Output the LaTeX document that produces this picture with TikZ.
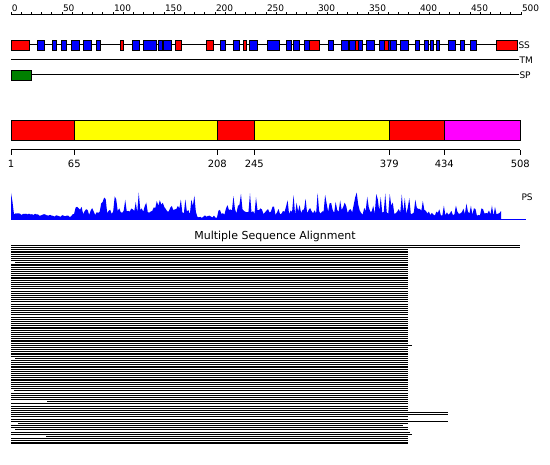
\documentclass[tikz,border=0pt]{standalone}
\usepackage{fontspec}
\setmainfont{DejaVu Sans}
\usetikzlibrary{calc}
\definecolor{ssred}{HTML}{FF0000}
\definecolor{ssblue}{HTML}{0000FF}
\definecolor{domyellow}{HTML}{FFFF00}
\definecolor{dommagenta}{HTML}{FF00FF}
\definecolor{spgreen}{HTML}{008000}

\begin{document}
\begin{tikzpicture}[
  x=1pt, y=-1pt, line width=1pt,
  every node/.style={font=\fontsize{9}{9}\selectfont, inner sep=0pt},
  ssbox/.style={draw=black, line width=0.9pt},
  msa/.style={line width=1.1pt}
]
\useasboundingbox (0,0) rectangle (550,465);
\fill[white] (0,0) rectangle (550,465);

% Ruler
\draw (11,15) -- (521,15);
\foreach \v in {0,10,...,500}
  \draw (11+1.02*\v,15) -- ++(0,-3);
\foreach \v in {0,50,...,500}
  \node[anchor=south west] (r\v) at (11.5+1.02*\v,12) {\v};

% SS track
\draw (11,45) -- (517,45);
\foreach \a/\b/\c in {11/29.7/ssred, 37/44.7/ssblue, 52.3/56.7/ssblue,
    61/66.7/ssblue, 71.3/79.7/ssblue, 83/91.7/ssblue, 96/100.7/ssblue,
    120.3/123.7/ssred, 132.3/139.7/ssblue, 143/156.7/ssblue, 158/162/ssblue,
    163.3/171.7/ssblue, 175.3/181.7/ssred, 206.3/213.7/ssred, 220/225.7/ssblue,
    233/239.7/ssblue, 243/246/ssred, 249/257.7/ssblue, 267.3/279.7/ssblue,
    286.3/291/ssblue, 293.3/299.7/ssblue, 304.3/309/ssblue, 309/319.7/ssred,
    328.3/333.7/ssblue, 341.3/348.3/ssblue, 349/355.3/ssblue, 355.3/358/ssred,
    358/362.3/ssblue, 366.3/374.3/ssblue, 379/384/ssblue, 384/388.3/ssred,
    388.3/390.3/ssblue, 390.3/396.7/ssblue, 400.3/408.3/ssblue,
    415.3/419.7/ssblue, 424.7/428.3/ssblue, 430.7/433.7/ssblue,
    436.3/439.7/ssblue, 448.3/455/ssblue, 460.3/464.3/ssblue,
    470.3/476.3/ssblue, 496.3/517/ssred}
  \filldraw[ssbox, fill=\c] (\a,40) rectangle (\b,50);
\node[anchor=west] (ss) at (518,45) {SS};

% TM and SP tracks
\draw (11,60) -- (519,60);
\node[anchor=west] (tm) at (519,60) {TM};
\draw (11,75) -- (519,75);
\filldraw[ssbox, fill=spgreen] (11,70) rectangle (31,80);
\node[anchor=west] (sp) at (519,75) {SP};

% Domain bar
\foreach \a/\b/\c in {11/74.3/ssred, 74.3/217.3/domyellow, 217.3/254.3/ssred,
    254.3/389.3/domyellow, 389.3/444.3/ssred, 444.3/520.3/dommagenta}
  \filldraw[ssbox, fill=\c] (\a,120) rectangle (\b,140);
\draw (11,150) -- (520.3,150);
\foreach \x/\r in {11/1, 74.3/65, 217.3/208, 254.3/245, 389.3/379,
    444.3/434, 520.3/508} {
  \draw (\x,150) -- ++(0,5);
  \node[anchor=north, font=\fontsize{10}{10}\selectfont] (d\r) at (\x,160) {\r};
}

% PS profile
\pgfmathsetseed{11}
\fill[ssblue] (11,220) -- plot[domain=11:501, samples=327, variable=\t]
  ({\t},{220-((\t<14) ? (27-6*(\t-11)) : ((\t<72) ? (2.5+(72-\t)/20+2*rnd) :
    ((\t<196) ? (5+6*rnd+19*rnd^4) : ((\t<218) ? (2+3*rnd) :
    ((\t<425) ? (5+6*rnd+19*rnd^4) : (4+4*rnd+10*rnd^4))))))})
  -- (501,220) -- cycle;
\draw[ssblue] (11,220) -- (526,220);
\node[anchor=west] (ps) at (521,197) {PS};

% Multiple sequence alignment
\node[anchor=base, font=\fontsize{11}{11}\selectfont] (msa) at (275,240)
  {Multiple Sequence Alignment};
\foreach \i in {0,...,91} {
  \pgfmathsetmacro\xs{(\i==72) ? 47 : ((\i==88) ? 46 : ((\i==82) ? 18 :
    (((\i==8) || (\i==52) || (\i==85)) ? 15 : ((\i==67) ? 14 : 11))))}
  \pgfmathsetmacro\xe{(\i<2) ? 520 : (((\i==77) || (\i==78) || (\i==81)) ? 448 :
    (((\i==46) || (\i==87)) ? 412 : ((\i==86) ? 410 : ((\i==83) ? 403 : 407.5))))}
  \draw[msa] (\xs,245.5+2.17*\i) -- (\xe,245.5+2.17*\i);
}
\end{tikzpicture}
\end{document}
